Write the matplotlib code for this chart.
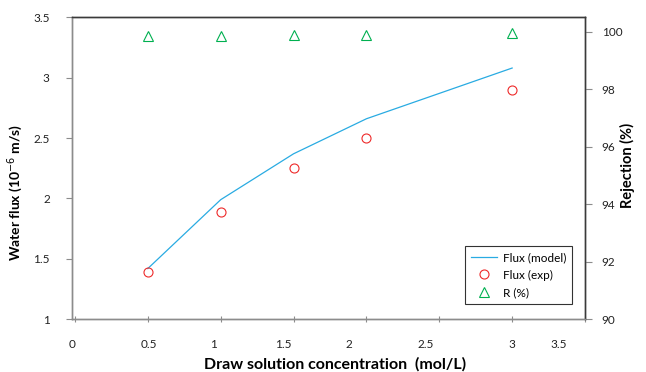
'''
Water flux and rejection vs draw solution concentration
'''

import matplotlib
matplotlib.use('Agg')
import matplotlib.pyplot as plt
from matplotlib.lines import Line2D

# data
conc = [0.5, 1.0, 1.5, 2.0, 3.0]
flux_model = [1.42, 1.99, 2.37, 2.66, 3.08]
flux_exp = [1.39, 1.89, 2.25, 2.50, 2.90]
rejection = [99.85, 99.85, 99.90, 99.90, 99.95]

# x tick labels and where they sit (they are a bit off the tick marks)
xtick_labels = ['0', '0.5', '1', '1.5', '2', '2.5', '3', '3.5']
xtick_label_pos = [-0.02, 0.51, 0.95, 1.43, 1.88, 2.41, 3.0, 3.32]
xticks = [0, 0.5, 1, 1.5, 2, 2.5, 3, 3.5]
yticks_left = [1, 1.5, 2, 2.5, 3, 3.5]
yticks_right = [90, 92, 94, 96, 98, 100]

plt.rcParams['font.family'] = ['Lato', 'DejaVu Sans']

BLUE = '#29abe2'
RED = '#ee2a2a'
GREEN = '#00b050'
GREY = '#8c8c8c'
DARK = '#3a3a3a'

fig = plt.figure(figsize=(6.46, 3.72), dpi=100)
ax = fig.add_axes([0.1115, 0.1417, 0.7941, 0.8118])
ax2 = ax.twinx()

ax.plot(conc, flux_model, color=BLUE, lw=0.9)
ax.plot(conc, flux_exp, ls='none', marker='o', ms=6.5, mfc='none',
        mec=RED, mew=0.8)
ax2.plot(conc, rejection, ls='none', marker='^', ms=6.5, mfc='none',
         mec=GREEN, mew=0.8)

ax.set_xlim(0, 3.5)
ax.set_ylim(1, 3.5)
ax2.set_ylim(90, 100.5)

ax.xaxis.remove_overlapping_locs = False
ax.set_xticks(xticks)
ax.set_xticklabels([''] * len(xticks))
ax.set_xticks(xtick_label_pos, minor=True)
ax.set_xticklabels(xtick_labels, minor=True)
ax.tick_params(axis='x', which='major', direction='inout', length=5,
               color=GREY, width=0.8)
ax.tick_params(axis='x', which='minor', length=0, pad=14, labelsize=8.5,
               labelcolor='#222222')

ax.set_yticks(yticks_left)
ax.set_yticklabels([f'{v:g}' for v in yticks_left])
ax.tick_params(axis='y', direction='out', length=4, color=GREY, width=0.8,
               pad=12, labelsize=8.5, labelcolor='#222222')
ax2.set_yticks(yticks_right)
ax2.tick_params(axis='y', direction='out', length=5, color=GREY, width=0.8,
                pad=7, labelsize=8.5, labelcolor='#222222')

for a in (ax, ax2):
    a.spines['left'].set_color(GREY)
    a.spines['bottom'].set_color(GREY)
    a.spines['top'].set_color(DARK)
    a.spines['right'].set_color(DARK)
    for s in a.spines.values():
        s.set_linewidth(1.0)

ax.set_xlabel('Draw solution concentration  (mol/L)', fontsize=11.5,
              fontweight='bold')
ax.xaxis.set_label_coords(0.512, -0.126)
ax.set_ylabel('Water flux (10$^{-6}$ m/s)', fontsize=10, fontweight='bold')
ax.yaxis.set_label_coords(-0.092, 0.42)
ax2.set_ylabel('Rejection (%)', fontsize=10.5, fontweight='bold')
ax2.yaxis.set_label_coords(1.068, 0.51)

handles = [
    Line2D([], [], color=BLUE, lw=0.9),
    Line2D([], [], ls='none', marker='o', ms=6.5, mfc='none', mec=RED,
           mew=0.8),
    Line2D([], [], ls='none', marker='^', ms=6.5, mfc='none', mec=GREEN,
           mew=0.8),
]
leg = ax2.legend(handles, ['Flux (model)', 'Flux (exp)', 'R (%)'],
                 loc='lower right', bbox_to_anchor=(0.986, 0.031),
                 fontsize=8.5, frameon=True, fancybox=False,
                 handlelength=2.2, handletextpad=0.5, labelspacing=0.55,
                 borderpad=0.5)
leg.get_frame().set_edgecolor('black')
leg.get_frame().set_linewidth(0.8)

fig.savefig('out.png', dpi=100)
